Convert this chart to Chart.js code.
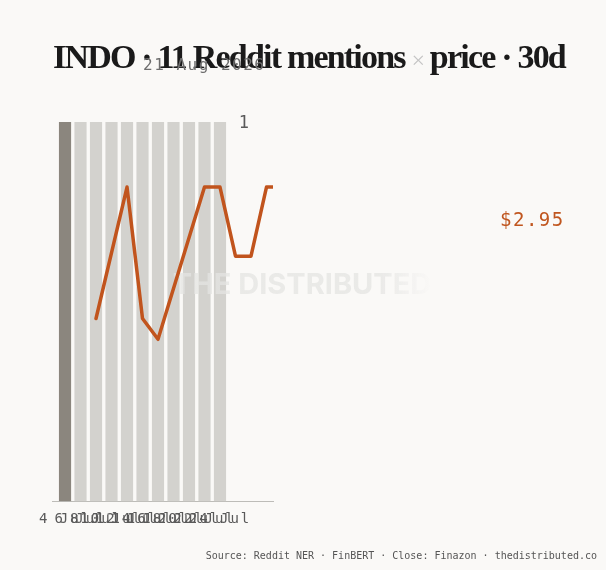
<!DOCTYPE html>
<html>
<head>
<meta charset="utf-8">
<script src="https://cdn.jsdelivr.net/npm/chart.js@4/dist/chart.umd.min.js"></script>
<style>
    html, body { margin: 0; padding: 0; background: #faf9f7; }
    .wrap { position: relative; width: 606px; height: 570px; overflow: hidden; }
    canvas { position: absolute; left: 0; top: 0; }
    .title {
        position: absolute; left: 53px; top: 38px; white-space: nowrap;
        font-family: 'Liberation Serif', serif; font-weight: 700; font-size: 34px;
        letter-spacing: -1.8px; color: #1a1a1a;
    }
    .title .x { color: #c4c4c4; font-weight: 400; font-size: 24px; }
    .sub {
        position: absolute; left: 143px; top: 55px; white-space: nowrap;
        font-family: 'DejaVu Sans Mono', monospace; font-size: 16px; letter-spacing: 1.5px; color: #6e6e6e;
    }
    .last {
        position: absolute; left: 500px; top: 208px;
        font-family: 'DejaVu Sans Mono', monospace; font-size: 19px; letter-spacing: 1.5px; color: #c0561f;
    }
    .source {
        position: absolute; right: 9px; top: 550px; white-space: nowrap;
        font-family: 'DejaVu Sans Mono', monospace; font-size: 10px; color: #555;
    }
</style>
</head>
<body>
<div class="wrap">
    <canvas id="mentionsChart" width="606" height="570"></canvas>
    <div class="title">INDO · 11 Reddit mentions <span class="x">×</span> price · 30d</div>
    <div class="sub">21 Aug 2026</div>
    <div class="last">$2.95</div>
    <div class="source">Source: Reddit NER · FinBERT · Close: Finazon · thedistributed.co</div>
</div>
<script>
// data
const mentionDays = [4, 6, 8, 10, 12, 14, 16, 18, 20, 22, 24];
const mentions = [1, 1, 1, 1, 1, 1, 1, 1, 1, 1, 1];
const tickLabels = ['4 Jul', '6 Jul', '8 Jul', '10 Jul', '12 Jul', '14 Jul', '16 Jul', '18 Jul', '20 Jul', '22 Jul', '24 Jul'];
const mentionTicks = [1];
const priceDays = [8, 10, 12, 14, 16, 18, 20, 22, 24, 26, 28, 30, 32];
const prices = [2.855, null, 2.95, 2.855, 2.84, null, null, 2.95, 2.95, 2.90, 2.90, 2.95, 2.95];

// letter spacing for canvas text (axis labels)
const spacingPlugin = {
    id: 'spacing',
    beforeLayout(chart) { chart.ctx.letterSpacing = '2px'; },
    beforeDraw(chart) { chart.ctx.letterSpacing = '2px'; }
};

// "1" label of the hidden mentions axis, drawn from the scale
const mentionTickPlugin = {
    id: 'mentionTick',
    afterDraw(chart) {
        const s = chart.scales.y;
        const ctx = chart.ctx;
        ctx.save();
        ctx.font = '17px "DejaVu Sans Mono"';
        ctx.fillStyle = '#5a5a5a';
        ctx.textAlign = 'right';
        ctx.textBaseline = 'middle';
        mentionTicks.forEach(v => ctx.fillText(String(v), chart.chartArea.right - 22, s.getPixelForValue(v) + 2));
        ctx.restore();
    }
};

// watermark between bars and line
const watermarkPlugin = {
    id: 'watermark',
    beforeDatasetDraw(chart, args) {
        if (args.index !== 1) return;
        const ctx = chart.ctx;
        ctx.save();
        ctx.font = 'bold 29px Inter, "DejaVu Sans", sans-serif';
        ctx.letterSpacing = '0px';
        ctx.textAlign = 'center';
        ctx.textBaseline = 'middle';
        const w = ctx.measureText('THE DISTRIBUTED').width;
        const x0 = 302 - w / 2;
        const grad = ctx.createLinearGradient(x0, 0, x0 + w, 0);
        grad.addColorStop(0, 'rgba(228,228,226,0.75)');
        grad.addColorStop(0.8, 'rgba(228,228,226,0.75)');
        grad.addColorStop(1, 'rgba(228,228,226,0)');
        ctx.fillStyle = grad;
        ctx.fillText('THE DISTRIBUTED', 302, 285);
        ctx.restore();
    }
};

const ctx = document.getElementById('mentionsChart').getContext('2d');
new Chart(ctx, {
    type: 'bar',
    data: {
        datasets: [{
            type: 'bar',
            data: mentionDays.map((d, i) => ({ x: d, y: mentions[i] })),
            backgroundColor: (c) => c.dataIndex === 0 ? '#8b867e' : '#d3d2ce',
            barThickness: 11.5,
            yAxisID: 'y',
            order: 2
        }, {
            type: 'line',
            data: priceDays.map((d, i) => ({ x: d, y: prices[i] })),
            borderColor: '#c1541d',
            borderWidth: 3.5,
            borderJoinStyle: 'round',
            borderCapStyle: 'round',
            pointRadius: 0,
            spanGaps: true,
            tension: 0,
            clip: 0,
            yAxisID: 'yp',
            order: 1
        }]
    },
    options: {
        responsive: false,
        animation: false,
        layout: { padding: { left: 52, right: 333, top: 122, bottom: 40 } },
        plugins: { legend: { display: false }, tooltip: { enabled: false } },
        scales: {
            x: {
                type: 'linear',
                offset: false,
                min: 2.32,
                max: 30.84,
                afterBuildTicks: (axis) => { axis.ticks = mentionDays.map(v => ({ value: v })); },
                grid: { display: false },
                border: { color: '#bdbcb8', width: 1 },
                ticks: {
                    autoSkip: false, maxRotation: 0, minRotation: 0, padding: 2,
                    color: '#5a5a5a',
                    font: { family: 'DejaVu Sans Mono', size: 14 },
                    callback: (v, i) => tickLabels[i]
                }
            },
            y: {
                display: false,
                min: 0,
                max: 1
            },
            yp: {
                display: false,
                min: 2.723,
                max: 2.997
            }
        }
    },
    plugins: [spacingPlugin, mentionTickPlugin, watermarkPlugin]
});
</script>
</body>
</html>
